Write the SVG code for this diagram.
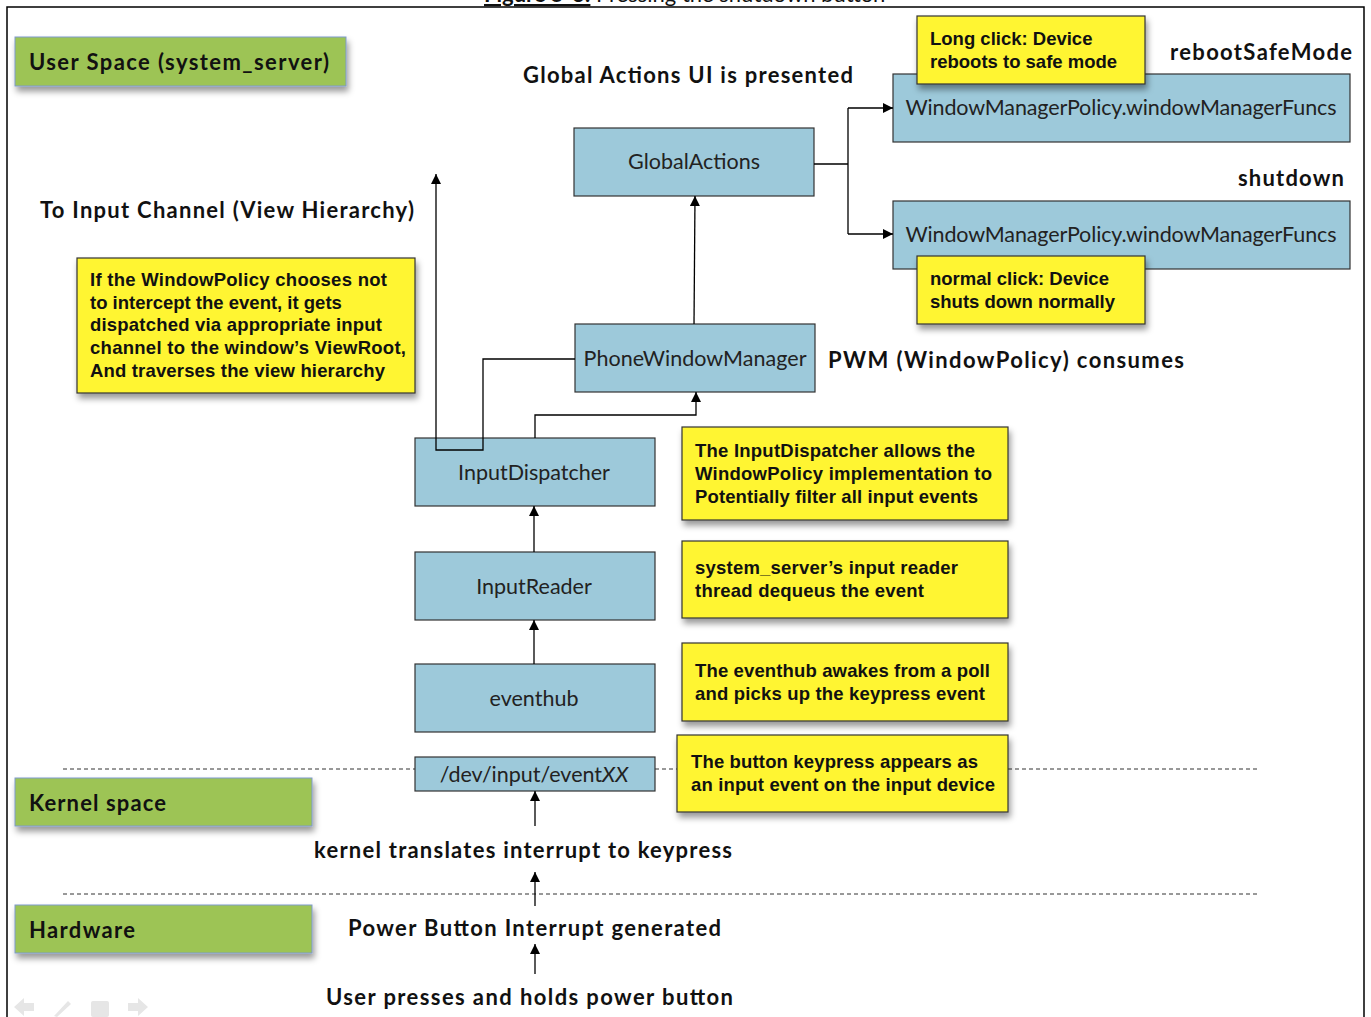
<svg xmlns="http://www.w3.org/2000/svg" width="1371" height="1017" viewBox="0 0 1371 1017">
  <defs>
    <filter id="shadow" x="-10%" y="-20%" width="125%" height="160%">
      <feDropShadow dx="2" dy="5" stdDeviation="3" flood-color="#000" flood-opacity="0.4"/>
    </filter>
    <marker id="arrow" viewBox="0 0 10 10" refX="10" refY="5" markerWidth="10" markerHeight="10" markerUnits="userSpaceOnUse" orient="auto">
      <path d="M0,0 L10,5 L0,10 Z" fill="#000"/>
    </marker>
    <style>
      .frame { stroke: #000; stroke-width: 1.5; fill: none; }
      .layer rect { fill: #9DC454; stroke: #7F9ACB; stroke-width: 1; filter: url(#shadow); }
      .layer text { font-family: Lato, "Open Sans", sans-serif; font-weight: bold; font-size: 22px; fill: #111; }
      .box rect { fill: #9DC9DA; stroke: #333; stroke-width: 1.2; }
      .box text { font-family: Lato, "Open Sans", sans-serif; font-size: 21.5px; fill: #222; text-anchor: middle; }
      .note rect { fill: #FFF533; stroke: #333; stroke-width: 1.2; filter: url(#shadow); }
      .note text { font-family: "Liberation Sans", Arial, sans-serif; font-weight: bold; font-size: 18.5px; fill: #111; }
      .label { font-family: Lato, "Open Sans", sans-serif; font-weight: bold; font-size: 22px; fill: #111; }
      .conn { stroke: #000; stroke-width: 1.3; fill: none; }
      .dash { stroke: #333; stroke-width: 1; stroke-dasharray: 4 3; fill: none; }
      .nav { fill: #E6E6E6; }
    </style>
  </defs>

  <rect width="1371" height="1017" fill="#fff"/>

  <!-- figure caption, partly above the frame -->
  <text x="484" y="2" font-family="Lato, 'Open Sans', sans-serif" font-size="22" fill="#111"><tspan font-weight="bold" text-decoration="underline">Figure 5-3:</tspan> Pressing the shutdown button</text>

  <!-- page frame -->
  <path class="frame" d="M7,1017 V7 H1364 V1017"/>

  <!-- layer separators -->
  <g id="separators">
    <path class="dash" d="M63,769 H415 M655,769 H677 M1008,769 H1260"/>
    <path class="dash" d="M63,894 H1260"/>
  </g>

  <!-- layer labels -->
  <g id="layer-user" class="layer">
    <rect x="15" y="37" width="331" height="49"/>
    <text x="29" y="70" textLength="300">User Space (system_server)</text>
  </g>
  <g id="layer-kernel" class="layer">
    <rect x="15" y="778" width="297" height="48"/>
    <text x="29" y="811" textLength="137">Kernel space</text>
  </g>
  <g id="layer-hardware" class="layer">
    <rect x="15" y="905" width="297" height="48"/>
    <text x="29" y="938" textLength="106">Hardware</text>
  </g>

  <!-- component nodes -->
  <g id="node-globalactions" class="box">
    <rect x="574" y="128" width="240" height="68"/>
    <text x="694" y="169">GlobalActions</text>
  </g>
  <g id="node-wmp-reboot" class="box">
    <rect x="893" y="74" width="457" height="68"/>
    <text x="1121" y="115" textLength="431">WindowManagerPolicy.windowManagerFuncs</text>
  </g>
  <g id="node-wmp-shutdown" class="box">
    <rect x="893" y="201" width="457" height="68"/>
    <text x="1121" y="242" textLength="431">WindowManagerPolicy.windowManagerFuncs</text>
  </g>
  <g id="node-phonewindowmanager" class="box">
    <rect x="575" y="324" width="240" height="68"/>
    <text x="695" y="366" textLength="223">PhoneWindowManager</text>
  </g>
  <g id="node-inputdispatcher" class="box">
    <rect x="415" y="438" width="240" height="68"/>
    <text x="534" y="480">InputDispatcher</text>
  </g>
  <g id="node-inputreader" class="box">
    <rect x="415" y="552" width="240" height="68"/>
    <text x="534" y="594">InputReader</text>
  </g>
  <g id="node-eventhub" class="box">
    <rect x="415" y="664" width="240" height="68"/>
    <text x="534" y="706">eventhub</text>
  </g>
  <g id="node-devinput" class="box">
    <rect x="415" y="757" width="240" height="34"/>
    <text x="534" y="782">/dev/input/event<tspan font-style="italic">XX</tspan></text>
  </g>

  <!-- connectors (drawn over the nodes they pass through) -->
  <g id="connectors">
    <path class="conn" d="M814,164 H848 M848,108 V234 M848,108 H893" marker-end="url(#arrow)"/>
    <path class="conn" d="M848,234 H893" marker-end="url(#arrow)"/>
    <path class="conn" d="M694,324 L695,196" marker-end="url(#arrow)"/>
    <path class="conn" d="M535,438 V415 H696 V392" marker-end="url(#arrow)"/>
    <path class="conn" d="M575,359 H483 V450 H436 V174" marker-end="url(#arrow)"/>
    <path class="conn" d="M534,552 V506" marker-end="url(#arrow)"/>
    <path class="conn" d="M534,664 V620" marker-end="url(#arrow)"/>
    <path class="conn" d="M535,826 V791" marker-end="url(#arrow)"/>
    <path class="conn" d="M535,906 V872" marker-end="url(#arrow)"/>
    <path class="conn" d="M535,974 V944" marker-end="url(#arrow)"/>
  </g>

  <!-- notes -->
  <g id="note-longclick" class="note">
    <rect x="917" y="16" width="228" height="68"/>
    <text x="930" y="45">Long click: Device</text>
    <text x="930" y="68">reboots to safe mode</text>
  </g>
  <g id="note-normalclick" class="note">
    <rect x="917" y="256" width="228" height="68"/>
    <text x="930" y="285">normal click: Device</text>
    <text x="930" y="308">shuts down normally</text>
  </g>
  <g id="note-viewroot" class="note">
    <rect x="77" y="258" width="338" height="135"/>
    <text x="90" y="286" textLength="297">If the WindowPolicy  chooses not</text>
    <text x="90" y="309">to intercept the event, it gets</text>
    <text x="90" y="331" textLength="292">dispatched via appropriate input</text>
    <text x="90" y="354" textLength="316">channel to the window’s ViewRoot,</text>
    <text x="90" y="377" textLength="295">And traverses the view hierarchy</text>
  </g>
  <g id="note-dispatcher" class="note">
    <rect x="682" y="427" width="326" height="93"/>
    <text x="695" y="457" textLength="280">The InputDispatcher allows  the</text>
    <text x="695" y="480" textLength="297">WindowPolicy implementation  to</text>
    <text x="695" y="503" textLength="283">Potentially  filter all input events</text>
  </g>
  <g id="note-reader" class="note">
    <rect x="682" y="541" width="326" height="77"/>
    <text x="695" y="574" textLength="263">system_server’s input reader</text>
    <text x="695" y="597" textLength="229">thread dequeus  the event</text>
  </g>
  <g id="note-eventhub" class="note">
    <rect x="682" y="643" width="326" height="78"/>
    <text x="695" y="677" textLength="295">The eventhub awakes from a poll</text>
    <text x="695" y="700" textLength="290">and picks up the keypress event</text>
  </g>
  <g id="note-keypress" class="note">
    <rect x="677" y="735" width="331" height="77"/>
    <text x="691" y="768" textLength="287">The button keypress appears as</text>
    <text x="691" y="791" textLength="304">an input event on the input device</text>
  </g>

  <!-- free labels -->
  <g id="labels">
    <text class="label" x="523" y="83" textLength="330">Global Actions UI is presented</text>
    <text class="label" x="1170" y="60" textLength="182">rebootSafeMode</text>
    <text class="label" x="1238" y="186" textLength="106">shutdown</text>
    <text class="label" x="40" y="218" textLength="374">To Input Channel (View Hierarchy)</text>
    <text class="label" x="828" y="368" textLength="356">PWM (WindowPolicy)  consumes</text>
    <text class="label" x="314" y="858" textLength="418">kernel translates interrupt to keypress</text>
    <text class="label" x="348" y="936" textLength="373">Power Button Interrupt generated</text>
    <text class="label" x="326" y="1005" textLength="407">User presses and holds power button</text>
  </g>

  <!-- slideshow navigation controls -->
  <g id="nav-controls">
    <path class="nav" d="M14,1007 L24,998 V1003 H34 V1011 H24 V1016 Z"/>
    <path class="nav" d="M54,1016 L68,1001 L71,1004 L57,1017 Z"/>
    <rect class="nav" x="91" y="1001" width="18" height="16" rx="2"/>
    <path class="nav" d="M148,1007 L138,998 V1003 H128 V1011 H138 V1016 Z"/>
  </g>
</svg>
